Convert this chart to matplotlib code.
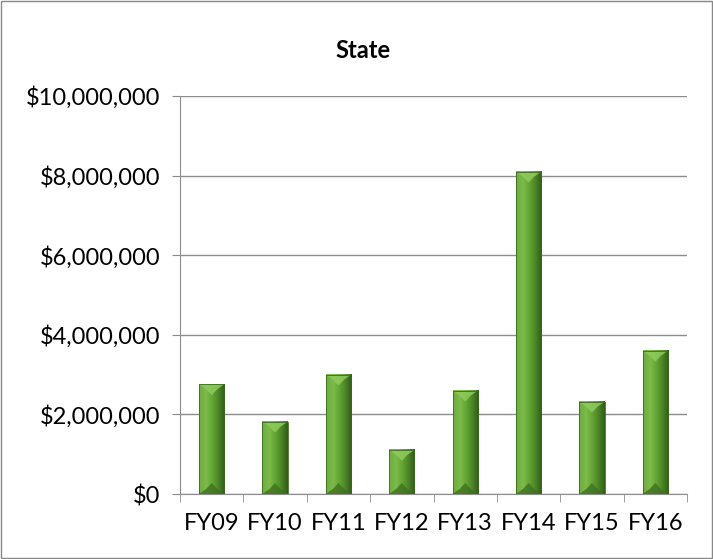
import matplotlib.pyplot as plt
from matplotlib.patches import Polygon, Rectangle
from matplotlib.colors import to_rgb
from matplotlib.ticker import FuncFormatter, FixedLocator
import numpy as np

years = ["FY09", "FY10", "FY11", "FY12", "FY13", "FY14", "FY15", "FY16"]
state = [2760000, 1820000, 3000000, 1110000, 2600000, 8100000, 2320000, 3600000]

plt.rcParams['font.family'] = ['Lato', 'DejaVu Sans']

fig = plt.figure(figsize=(7.13, 5.59), dpi=100)
ax = fig.add_axes([180 / 713, 1 - 494 / 559, 507 / 713, 398 / 559])

# outer chart border
fig.patches.append(Rectangle((0.002, 0.002), 0.996, 0.996, transform=fig.transFigure,
                             fill=False, edgecolor='#888888', linewidth=1))

x = np.arange(len(years))
w = 0.4
ax.set_xlim(-0.5, len(years) - 0.5)
ax.set_ylim(0, 10000000)
ax.set_axisbelow(True)
ax.yaxis.grid(True, color='#8c8c8c', linewidth=1)

# horizontal shading across a bar: light left, mid centre, dark right
stops = [(0.0, '#6fae3e'), (0.28, '#7cbb4a'), (0.5, '#66a636'), (0.72, '#4f8a29'), (1.0, '#2f5e15')]
pos = np.linspace(0, 1, 40)
grad = np.array([[np.interp(p, [s[0] for s in stops], [to_rgb(s[1])[k] for s in stops])
                  for k in range(3)] for p in pos])[None, :, :]

px_x = 1.0 / 63.4 * 7
px_y = 10000000 / 398 * 11
for xi, v in zip(x, state):
    l, r = xi - w / 2, xi + w / 2
    b = min(px_y, v / 2)
    ax.imshow(grad, extent=(l, r, 0, v), aspect='auto', interpolation='bilinear', zorder=2)
    # top chevron, lighter
    ax.add_patch(Polygon([(l, v), (r, v), (r - px_x, v - b * 0.45), (xi, v - b), (l + px_x, v - b * 0.45)],
                         facecolor='#8fcb5c', edgecolor='none', alpha=0.85, zorder=3))
    # bottom chevron, darker
    ax.add_patch(Polygon([(l, 0), (r, 0), (r - px_x, b * 0.45), (xi, b), (l + px_x, b * 0.45)],
                         facecolor='#3f7020', edgecolor='none', alpha=0.8, zorder=3))
    ax.add_patch(Rectangle((l, 0), w, v, facecolor='none', edgecolor='#3b6a1e',
                           linewidth=0.6, zorder=4))

ax.set_xticks(x)
ax.set_xticklabels(years, fontsize=17)
ax.xaxis.set_minor_locator(FixedLocator(np.arange(-0.5, len(years), 1)))
ax.tick_params(axis='x', which='major', length=0, pad=14)
ax.tick_params(axis='x', which='minor', length=6, color='#8c8c8c', direction='out')

ax.set_yticks(np.arange(0, 10000001, 2000000))
ax.yaxis.set_major_formatter(FuncFormatter(lambda v, p: "${:,.0f}".format(v)))
ax.tick_params(axis='y', length=6, color='#8c8c8c', labelsize=17, pad=8)

for s in ['top', 'right']:
    ax.spines[s].set_visible(False)
for s in ['left', 'bottom']:
    ax.spines[s].set_color('#8c8c8c')

fig.text(363 / 713, 1 - 51 / 559, "State", fontsize=17,
         fontweight='bold', ha='center', va='center')

fig.savefig("out.png", dpi=100)
